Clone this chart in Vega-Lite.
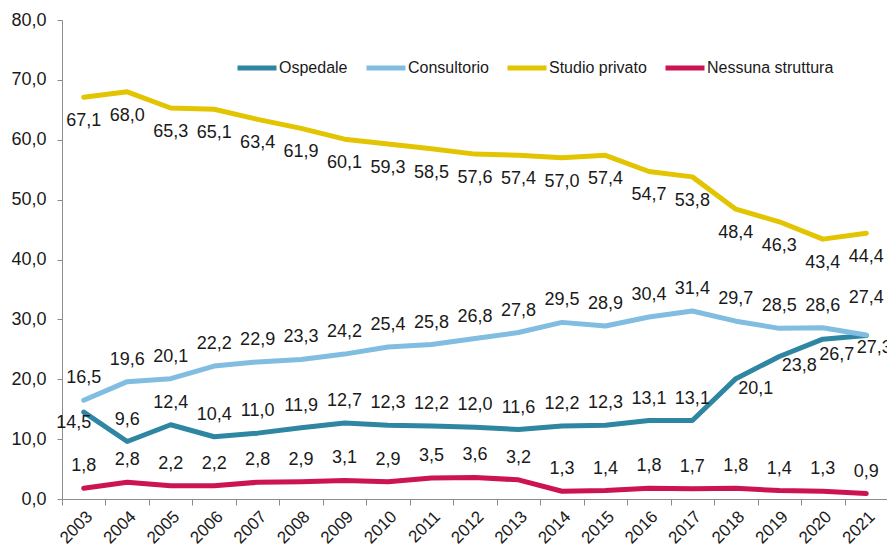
{
  "$schema": "https://vega.github.io/schema/vega-lite/v6.json",
  "width": 826,
  "height": 479,
  "autosize": {"type": "none"},
  "padding": {"left": 62, "top": 20, "right": 0, "bottom": 52},
  "background": "white",
  "config": {
    "locale": {"number": {"decimal": ",", "thousands": ".", "grouping": [3], "currency": ["€", ""]}},
    "view": {"stroke": null},
    "font": "Liberation Sans",
    "axis": {"grid": false, "domainColor": "#8c8c8c", "tickColor": "#8c8c8c", "labelColor": "#1a1a1a", "labelFont": "Liberation Sans", "title": null},
    "text": {"fontSize": 18, "color": "#1a1a1a", "baseline": "middle"}
  },
  "data": {
    "values": [
      {"anno": "2003", "serie": "Ospedale", "valore": 14.5},
      {"anno": "2004", "serie": "Ospedale", "valore": 9.6},
      {"anno": "2005", "serie": "Ospedale", "valore": 12.4},
      {"anno": "2006", "serie": "Ospedale", "valore": 10.4},
      {"anno": "2007", "serie": "Ospedale", "valore": 11.0},
      {"anno": "2008", "serie": "Ospedale", "valore": 11.9},
      {"anno": "2009", "serie": "Ospedale", "valore": 12.7},
      {"anno": "2010", "serie": "Ospedale", "valore": 12.3},
      {"anno": "2011", "serie": "Ospedale", "valore": 12.2},
      {"anno": "2012", "serie": "Ospedale", "valore": 12.0},
      {"anno": "2013", "serie": "Ospedale", "valore": 11.6},
      {"anno": "2014", "serie": "Ospedale", "valore": 12.2},
      {"anno": "2015", "serie": "Ospedale", "valore": 12.3},
      {"anno": "2016", "serie": "Ospedale", "valore": 13.1},
      {"anno": "2017", "serie": "Ospedale", "valore": 13.1},
      {"anno": "2018", "serie": "Ospedale", "valore": 20.1},
      {"anno": "2019", "serie": "Ospedale", "valore": 23.8},
      {"anno": "2020", "serie": "Ospedale", "valore": 26.7},
      {"anno": "2021", "serie": "Ospedale", "valore": 27.3},
      {"anno": "2003", "serie": "Consultorio", "valore": 16.5},
      {"anno": "2004", "serie": "Consultorio", "valore": 19.6},
      {"anno": "2005", "serie": "Consultorio", "valore": 20.1},
      {"anno": "2006", "serie": "Consultorio", "valore": 22.2},
      {"anno": "2007", "serie": "Consultorio", "valore": 22.9},
      {"anno": "2008", "serie": "Consultorio", "valore": 23.3},
      {"anno": "2009", "serie": "Consultorio", "valore": 24.2},
      {"anno": "2010", "serie": "Consultorio", "valore": 25.4},
      {"anno": "2011", "serie": "Consultorio", "valore": 25.8},
      {"anno": "2012", "serie": "Consultorio", "valore": 26.8},
      {"anno": "2013", "serie": "Consultorio", "valore": 27.8},
      {"anno": "2014", "serie": "Consultorio", "valore": 29.5},
      {"anno": "2015", "serie": "Consultorio", "valore": 28.9},
      {"anno": "2016", "serie": "Consultorio", "valore": 30.4},
      {"anno": "2017", "serie": "Consultorio", "valore": 31.4},
      {"anno": "2018", "serie": "Consultorio", "valore": 29.7},
      {"anno": "2019", "serie": "Consultorio", "valore": 28.5},
      {"anno": "2020", "serie": "Consultorio", "valore": 28.6},
      {"anno": "2021", "serie": "Consultorio", "valore": 27.4},
      {"anno": "2003", "serie": "Studio privato", "valore": 67.1},
      {"anno": "2004", "serie": "Studio privato", "valore": 68.0},
      {"anno": "2005", "serie": "Studio privato", "valore": 65.3},
      {"anno": "2006", "serie": "Studio privato", "valore": 65.1},
      {"anno": "2007", "serie": "Studio privato", "valore": 63.4},
      {"anno": "2008", "serie": "Studio privato", "valore": 61.9},
      {"anno": "2009", "serie": "Studio privato", "valore": 60.1},
      {"anno": "2010", "serie": "Studio privato", "valore": 59.3},
      {"anno": "2011", "serie": "Studio privato", "valore": 58.5},
      {"anno": "2012", "serie": "Studio privato", "valore": 57.6},
      {"anno": "2013", "serie": "Studio privato", "valore": 57.4},
      {"anno": "2014", "serie": "Studio privato", "valore": 57.0},
      {"anno": "2015", "serie": "Studio privato", "valore": 57.4},
      {"anno": "2016", "serie": "Studio privato", "valore": 54.7},
      {"anno": "2017", "serie": "Studio privato", "valore": 53.8},
      {"anno": "2018", "serie": "Studio privato", "valore": 48.4},
      {"anno": "2019", "serie": "Studio privato", "valore": 46.3},
      {"anno": "2020", "serie": "Studio privato", "valore": 43.4},
      {"anno": "2021", "serie": "Studio privato", "valore": 44.4},
      {"anno": "2003", "serie": "Nessuna struttura", "valore": 1.8},
      {"anno": "2004", "serie": "Nessuna struttura", "valore": 2.8},
      {"anno": "2005", "serie": "Nessuna struttura", "valore": 2.2},
      {"anno": "2006", "serie": "Nessuna struttura", "valore": 2.2},
      {"anno": "2007", "serie": "Nessuna struttura", "valore": 2.8},
      {"anno": "2008", "serie": "Nessuna struttura", "valore": 2.9},
      {"anno": "2009", "serie": "Nessuna struttura", "valore": 3.1},
      {"anno": "2010", "serie": "Nessuna struttura", "valore": 2.9},
      {"anno": "2011", "serie": "Nessuna struttura", "valore": 3.5},
      {"anno": "2012", "serie": "Nessuna struttura", "valore": 3.6},
      {"anno": "2013", "serie": "Nessuna struttura", "valore": 3.2},
      {"anno": "2014", "serie": "Nessuna struttura", "valore": 1.3},
      {"anno": "2015", "serie": "Nessuna struttura", "valore": 1.4},
      {"anno": "2016", "serie": "Nessuna struttura", "valore": 1.8},
      {"anno": "2017", "serie": "Nessuna struttura", "valore": 1.7},
      {"anno": "2018", "serie": "Nessuna struttura", "valore": 1.8},
      {"anno": "2019", "serie": "Nessuna struttura", "valore": 1.4},
      {"anno": "2020", "serie": "Nessuna struttura", "valore": 1.3},
      {"anno": "2021", "serie": "Nessuna struttura", "valore": 0.9}
    ]
  },
  "encoding": {
    "x": {
      "field": "anno", "type": "ordinal",
      "scale": {"type": "band", "paddingInner": 0, "paddingOuter": 0},
      "axis": {"tickBand": "extent", "labelAngle": -45, "labelFontSize": 17, "tickSize": 6, "labelPadding": 3}
    },
    "y": {
      "field": "valore", "type": "quantitative",
      "scale": {"domain": [0, 80], "nice": false},
      "axis": {"values": [0, 10, 20, 30, 40, 50, 60, 70, 80], "format": ".1f", "labelFontSize": 18, "tickSize": 5, "labelPadding": 11}
    },
    "text": {"field": "valore", "type": "quantitative", "format": ".1f"}
  },
  "layer": [
    {
      "mark": {"type": "line", "strokeWidth": 5, "strokeJoin": "round", "strokeCap": "round"},
      "encoding": {
        "text": null,
        "color": {
          "field": "serie", "type": "nominal",
          "scale": {"domain": ["Ospedale", "Consultorio", "Studio privato", "Nessuna struttura"], "range": ["#2F86A2", "#80BDE0", "#E3C400", "#CC1452"]},
          "legend": {
            "title": null, "orient": "none", "direction": "horizontal",
            "legendX": 173, "legendY": 26,
            "symbolType": "stroke", "symbolSize": 1521, "symbolStrokeWidth": 5,
            "labelFontSize": 16, "labelColor": "#1a1a1a", "labelOffset": 0, "columnPadding": 8, "labelLimit": 300
          }
        }
      }
    },
    {
      "transform": [{"filter": "datum.serie == 'Studio privato'"}],
      "mark": {"type": "text", "dy": 24}
    },
    {
      "transform": [{"filter": "datum.serie == 'Nessuna struttura' || (datum.serie == 'Consultorio' && datum.anno != '2021') || (datum.serie == 'Ospedale' && datum.anno > '2003' && datum.anno < '2018')"}],
      "mark": {"type": "text", "dy": -22}
    },
    {
      "transform": [{"filter": "datum.serie == 'Consultorio' && datum.anno == '2021'"}],
      "mark": {"type": "text", "dy": -37}
    },
    {
      "transform": [{"filter": "datum.serie == 'Ospedale' && datum.anno == '2003'"}],
      "mark": {"type": "text", "dx": -10, "dy": 11}
    },
    {
      "transform": [{"filter": "datum.serie == 'Ospedale' && (datum.anno == '2018' || datum.anno == '2019')"}],
      "mark": {"type": "text", "dx": 20, "dy": 10}
    },
    {
      "transform": [{"filter": "datum.serie == 'Ospedale' && datum.anno == '2020'"}],
      "mark": {"type": "text", "dx": 14, "dy": 16}
    },
    {
      "transform": [{"filter": "datum.serie == 'Ospedale' && datum.anno == '2021'"}],
      "mark": {"type": "text", "dx": 8, "dy": 12}
    }
  ]
}
